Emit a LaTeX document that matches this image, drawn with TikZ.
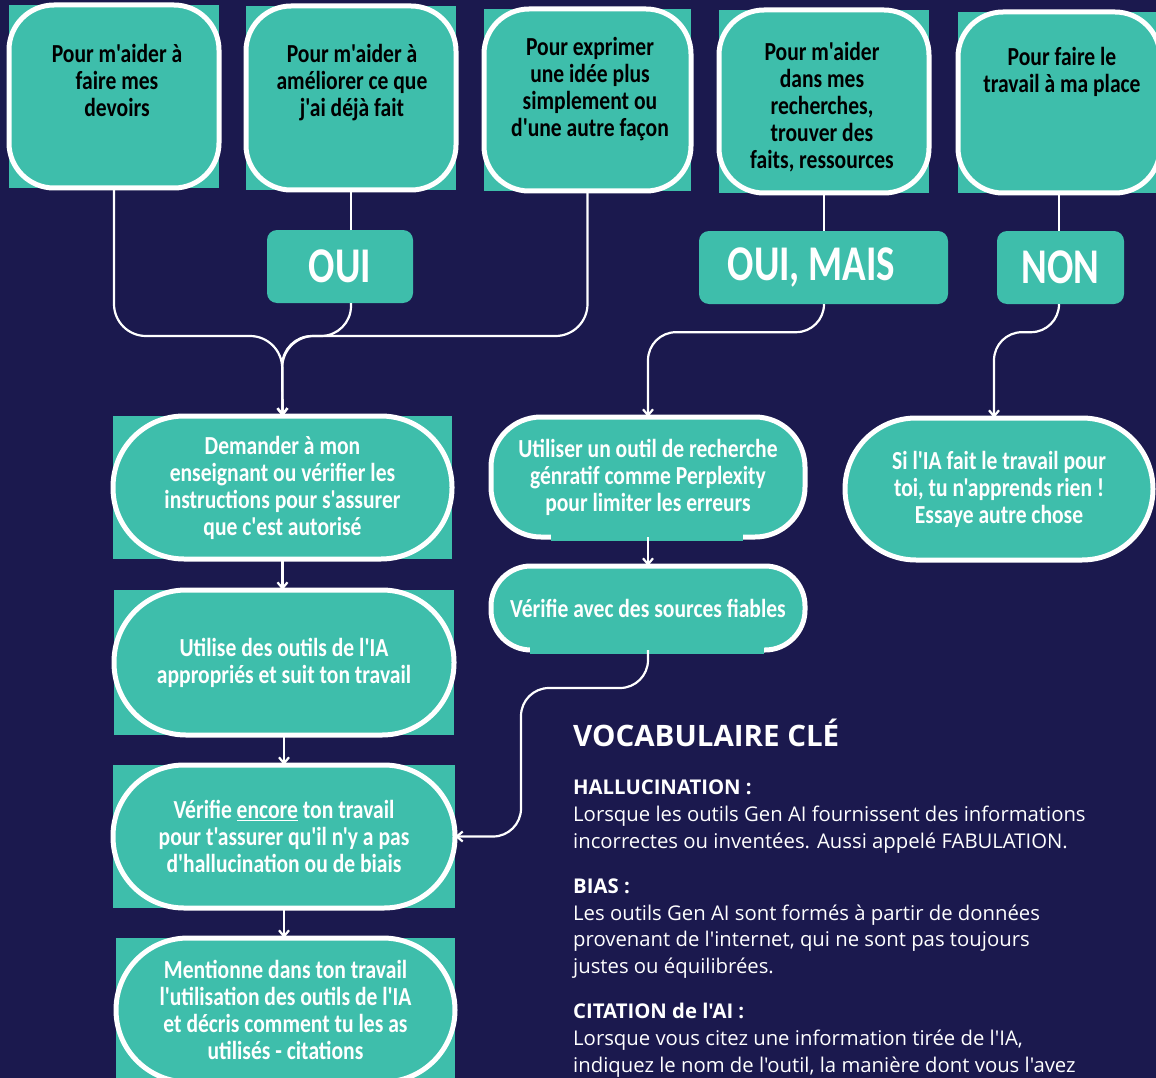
\documentclass[tikz,border=0pt]{standalone}
\usepackage{fontspec}
\setmainfont{Carlito}[Ligatures=TeXOff]
\newfontfamily\boxfont{Carlito}[FakeStretch=0.83, Ligatures=TeXOff]
\newfontfamily\tagfont{Carlito}[FakeStretch=0.78, Ligatures=TeXOff]
\newfontfamily\vocfont{Open Sans}[Ligatures=TeXOff]
\usetikzlibrary{arrows.meta, backgrounds}

\definecolor{navy}{RGB}{27,25,78}
\definecolor{mint}{RGB}{62,190,171}

\tikzset{
  wire/.style={draw=white, line width=2.2pt},
  arr/.style={-{Straight Barb[length=6pt,width=10pt]}},
  qbox/.style={draw=white, fill=mint, line width=5pt, rounded corners=45pt, outer sep=0pt},
  qtext/.style={align=center, text=black, inner sep=0pt,
    font={\boxfont\bfseries\fontsize{26}{27}\selectfont}},
  tagbox/.style={fill=mint, rounded corners=10pt, text=white, inner sep=0pt,
    font={\tagfont\bfseries\fontsize{50}{52}\selectfont}},
  pill/.style={draw=white, fill=mint, line width=5pt, rounded corners=#1, outer sep=0pt,
    align=center, text=white, inner sep=0pt,
    font={\boxfont\bfseries\fontsize{26}{27}\selectfont}},
}

\begin{document}
\begin{tikzpicture}[x=1pt, y=-1pt]
\useasboundingbox (0,0) rectangle (1156,1078);

% questions du haut
\node[qbox, minimum width=210pt, minimum height=183pt] (Q1) at (114,96.5) {};
\node[qbox, minimum width=210pt, minimum height=184pt] (Q2) at (351,98) {};
\node[qbox, minimum width=207pt, minimum height=182pt] (Q3) at (587.5,100) {};
\node[qbox, minimum width=210pt, minimum height=183pt] (Q4) at (824,101.5) {};
\node[qbox, minimum width=202pt, minimum height=181pt] (Q5) at (1059,102.5) {};

\node[qtext] (T1) at (117,80) {Pour m'aider à\\faire mes\\devoirs};
\node[qtext] (T2) at (352,82.5) {Pour m'aider à\\améliorer ce que\\j'ai déjà fait};
\node[qtext] (T3) at (590,89) {Pour exprimer\\une idée plus\\simplement ou\\d'une autre façon};
\node[qtext] (T4) at (822,107.5) {Pour m'aider\\dans mes\\recherches,\\trouver des\\faits, ressources};
\node[qtext] (T5) at (1062,71.5) {Pour faire le\\travail à ma place};

% reponses
\node[tagbox, minimum width=146pt, minimum height=73pt] (OUI) at (340,266.5) {OUI};
\node[tagbox, minimum width=249pt, minimum height=73pt] (OUIM) at (823.5,267.5) {OUI, MAIS\kern24pt};
\node[tagbox, minimum width=127pt, minimum height=73pt] (NON) at (1060.5,267.5) {NON};

% etapes
\node[pill=71pt, minimum width=339pt, minimum height=143pt] (ASK) at (282.5,487.5)
  {Demander à mon\\enseignant ou vérifier les\\instructions pour s'assurer\\que c'est autorisé};
\node[pill=72pt, minimum width=340pt, minimum height=145pt] (USE) at (284,662.5)
  {Utilise des outils de l'IA\\appropriés et suit ton travail};
\node[pill=71pt, minimum width=342pt, minimum height=143pt] (CHK) at (284,836.5)
  {Vérifie \underline{encore} ton travail\\pour t'assurer qu'il n'y a pas\\d'hallucination ou de biais};
\node[pill=72pt, minimum width=339pt, minimum height=144pt] (CITE) at (285.5,1010)
  {Mentionne dans ton travail\\l'utilisation des outils de l'IA\\et décris comment tu les as\\utilisés - citations};
\node[pill=50pt, minimum width=314pt, minimum height=120pt] (TOOL) at (648,477)
  {Utiliser un outil de recherche\\génratif comme Perplexity\\pour limiter les erreurs};
\node[pill=40pt, minimum width=314pt, minimum height=84pt] (SRC) at (648,608)
  {Vérifie avec des sources fiables};
\node[pill=71pt, minimum width=308pt, minimum height=142pt] (STOP) at (999,489)
  {Si l'IA fait le travail pour\\toi, tu n'apprends rien !\\Essaye autre chose};

\fill[mint] ([xshift=60pt,yshift=3pt]TOOL.south west) rectangle ([xshift=-62pt,yshift=-3.5pt]TOOL.south east);
\fill[mint] ([xshift=39pt,yshift=3pt]SRC.south west) rectangle ([xshift=-41pt,yshift=-3.5pt]SRC.south east);

\begin{scope}[on background layer]
\fill[navy] (0,0) rectangle (1156,1078);
\foreach \n in {Q1,Q2,Q3,Q4,Q5,ASK,USE,CHK,CITE}
  \fill[mint] (\n.north west) rectangle (\n.south east);
\end{scope}

% liens
\draw[wire, arr, rounded corners=32pt] (Q1.south) |- (282,336) -- (ASK.north);
\draw[wire, arr, rounded corners=32pt] (Q3.south) |- (282,336) -- (ASK.north);
\draw[wire, arr, rounded corners=30pt] (OUI.south -| Q2.south) |- (282,336) -- (ASK.north);
\draw[wire] (Q2.south) -- (Q2.south |- OUI.north);
\draw[wire] (Q4.south) -- (Q4.south |- OUIM.north);
\draw[wire] (Q5.south) -- (Q5.south |- NON.north);
\draw[wire, arr, rounded corners=28pt] (OUIM.south -| Q4.south) -- ++(0,28) -| (TOOL.north);
\draw[wire, arr, rounded corners=28pt] (NON.south -| Q5.south) -- ++(0,28) -| ([xshift=-5pt]STOP.north);
\draw[wire, arr, rounded corners=28pt] (SRC.south) |- (521,688) |- (CHK.east);

\path[wire]
(ASK.south) edge[arr] (ASK.south |- USE.north)
(USE.south) edge[arr] (USE.south |- CHK.north)
(CHK.south) edge[arr] (CHK.south |- CITE.north)
(TOOL.south) edge[arr] (SRC.north)
;

% vocabulaire
\node[anchor=base west, inner sep=0pt, text=white, font={\vocfont\bfseries\fontsize{29.5}{32}\selectfont}] (VOC) at (573,746) {VOCABULAIRE CLÉ};
\node[anchor=north west, inner sep=0pt, align=left, text=white, font={\vocfont\fontsize{20.3}{26.8}\selectfont}] (DEF) at (573,780)
{{\bfseries HALLUCINATION :}\\
Lorsque les outils Gen AI fournissent des informations\\
incorrectes ou inventées. Aussi appelé FABULATION.\\[18pt]
{\bfseries BIAS :}\\
Les outils Gen AI sont formés à partir de données\\
provenant de l'internet, qui ne sont pas toujours\\
justes ou équilibrées.\\[18pt]
{\bfseries CITATION de l'AI :}\\
Lorsque vous citez une information tirée de l'IA,\\
indiquez le nom de l'outil, la manière dont vous l'avez};
\end{tikzpicture}
\end{document}
